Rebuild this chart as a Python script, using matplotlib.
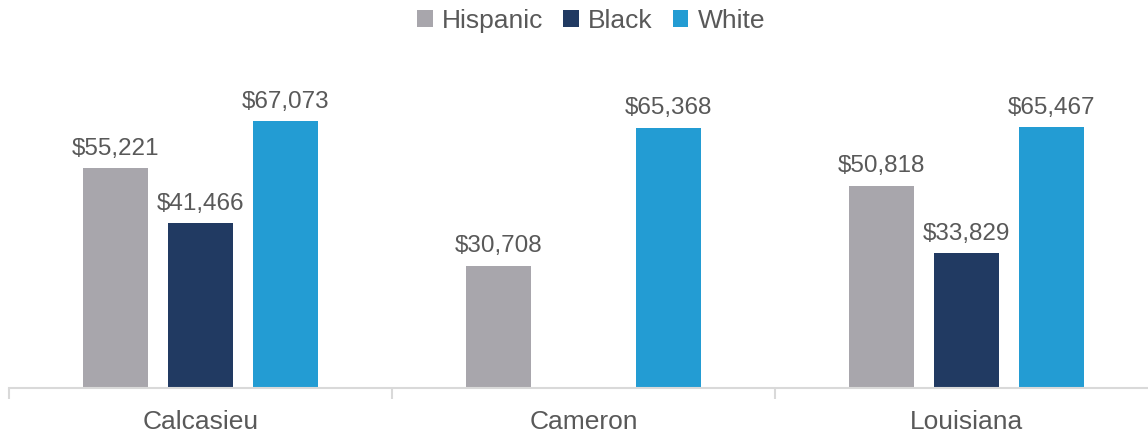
import numpy as np
import matplotlib
matplotlib.use("Agg")
import matplotlib.pyplot as plt

categories = ["Calcasieu", "Cameron", "Louisiana"]
series = ["Hispanic", "Black", "White"]
hispanic = [55221, 30708, 50818]
black = [41466, None, 33829]
white = [67073, 65368, 65467]
colors = ["#A8A6AC", "#213A62", "#239CD3"]
TEXT = "#595959"

plt.rcParams["font.family"] = ["Liberation Sans", "DejaVu Sans"]

fig = plt.figure(figsize=(11.48, 4.33), dpi=100)
ax = fig.add_axes([9 / 1148, 45 / 433, 1149 / 1148, 338.4 / 433])

x = np.arange(len(categories))
width = 0.172
offsets = [-0.222, 0.0, 0.222]
for vals, name, off, col in zip([hispanic, black, white], series, offsets, colors):
    xs = [xi + off for xi, v in zip(x, vals) if v is not None]
    hs = [v for v in vals if v is not None]
    bars = ax.bar(xs, hs, width, color=col, label=name)
    for b, v in zip(bars, hs):
        ax.annotate(f"${v:,}", (b.get_x() + b.get_width() / 2, v),
                    xytext=(0, 6), textcoords="offset points",
                    ha="center", va="bottom", fontsize=17.5, color=TEXT)

ax.set_xlim(-0.5, 2.5)
ax.set_ylim(0, 85000)
ax.set_yticks([])
for s in ["top", "right", "left"]:
    ax.spines[s].set_visible(False)
ax.spines["bottom"].set_color("#D9D9D9")
ax.spines["bottom"].set_linewidth(1.5)
ax.set_xticks([-0.5, 0.5, 1.5, 2.5], minor=False)
ax.set_xticklabels([])
ax.tick_params(axis="x", which="major", length=8, color="#D9D9D9", width=1.5)
ax.set_xticks(x, minor=True)
ax.set_xticklabels(categories, minor=True)
ax.tick_params(axis="x", which="minor", length=0, pad=16, labelsize=19, labelcolor=TEXT)

handles, labels = ax.get_legend_handles_labels()
fig.legend(handles, labels, loc="upper center", bbox_to_anchor=(591 / 1148, 1.0 + 2 / 433),
           ncol=3, frameon=False, fontsize=19, labelcolor=TEXT,
           handlelength=0.6, handleheight=0.6, handletextpad=0.35,
           columnspacing=0.75, borderaxespad=0)

fig.savefig("out.png", dpi=100, facecolor="white")
